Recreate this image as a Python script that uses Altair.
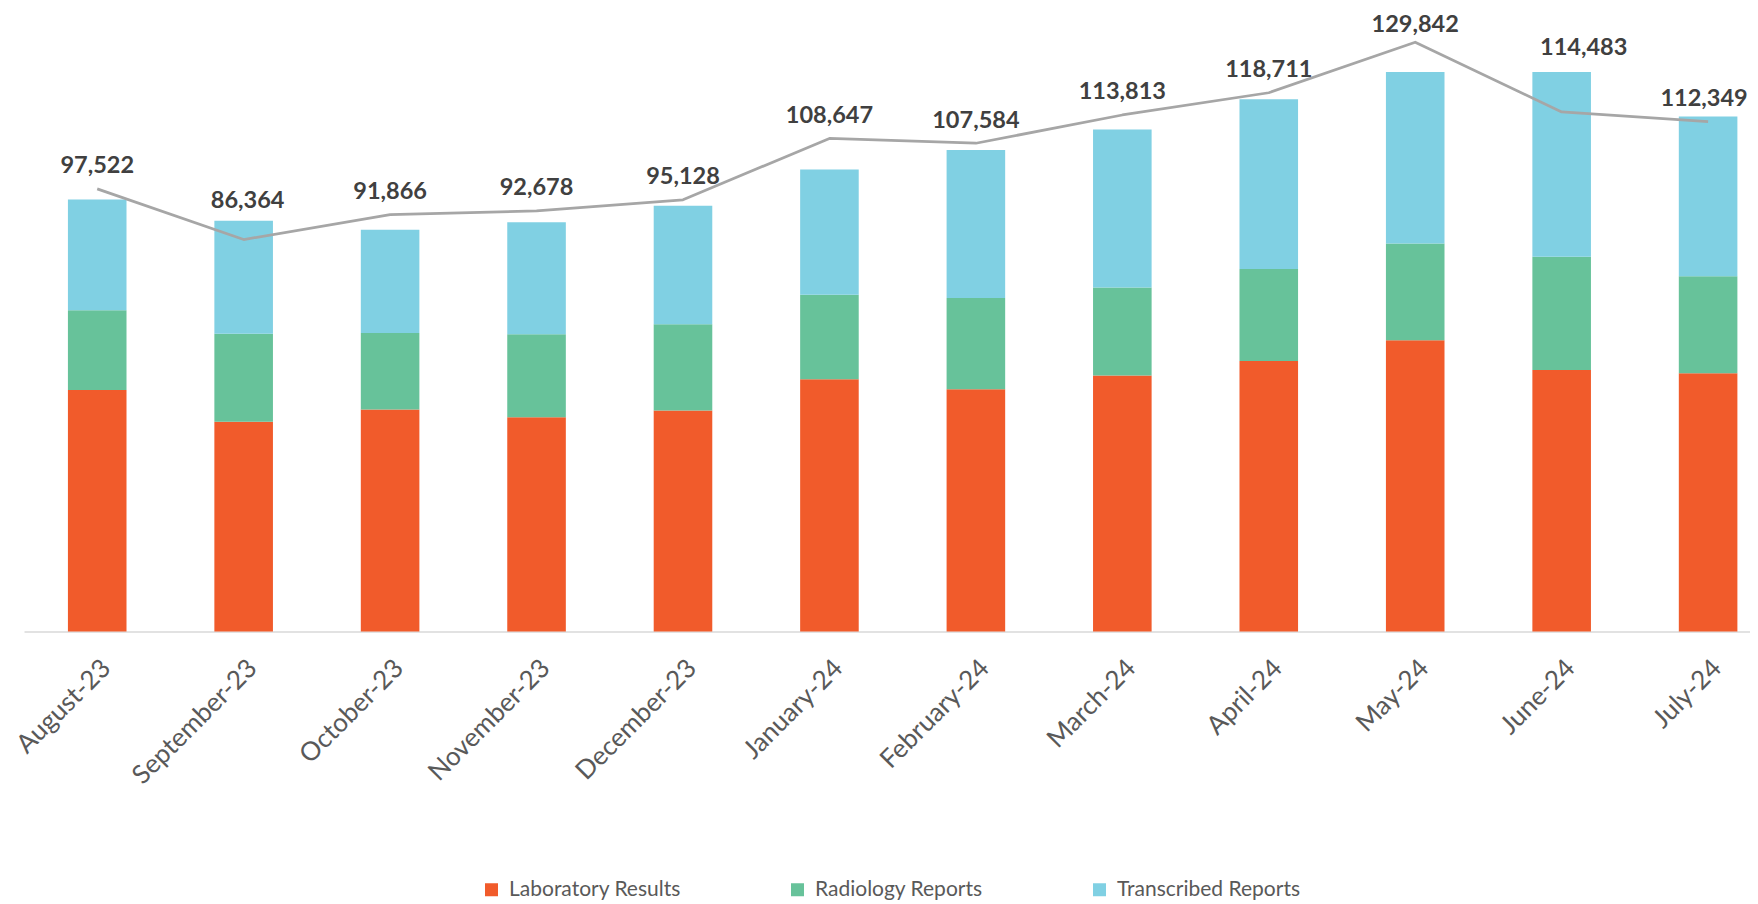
import altair as alt
import pandas as pd

months = ["August-23", "September-23", "October-23", "November-23", "December-23",
          "January-24", "February-24", "March-24", "April-24", "May-24", "June-24", "July-24"]
series = ["Laboratory Results", "Radiology Reports", "Transcribed Reports"]
laboratory = [53200, 46200, 48900, 47200, 48700, 55600, 53400, 56400, 59600, 64200, 57600, 56900]
radiology = [17600, 19400, 16900, 18300, 19000, 18600, 20100, 19400, 20300, 21300, 25000, 21400]
transcribed = [24400, 24900, 22700, 24700, 26100, 27600, 32600, 34800, 37400, 37800, 40700, 35200]
totals = [97522, 86364, 91866, 92678, 95128, 108647, 107584, 113813, 118711, 129842, 114483, 112349]
colors = ["#F15B2B", "#67C29A", "#80D0E3"]

rows = []
for i, m in enumerate(months):
    for k, vals in enumerate([laboratory, radiology, transcribed]):
        rows.append({"month": m, "series": series[k], "value": vals[i], "order": k})
bars_df = pd.DataFrame(rows)
tot_df = pd.DataFrame({"month": months, "total": totals,
                       "label": [f"{t:,}" for t in totals]})

x_scale = alt.Scale(domain=months, paddingInner=0.6, paddingOuter=0.193, align=0.777, round=False)
y_scale = alt.Scale(domain=[0, 134300], nice=False, zero=True)
x_axis = alt.Axis(title=None, labelAngle=-45, labelFont="Lato", labelFontSize=26,
                  labelColor="#595959", ticks=False, labelPadding=23,
                  domainColor="#D9D9D9", domainWidth=1.5, grid=False,
                  labelAlign="right", labelBaseline="top")
X = alt.X("month:N", scale=x_scale, axis=x_axis)

bars = alt.Chart(bars_df).mark_bar().encode(
    x=X,
    y=alt.Y("value:Q", stack="zero", scale=y_scale, axis=None),
    color=alt.Color("series:N", scale=alt.Scale(domain=series, range=colors),
                    legend=alt.Legend(title=None, orient="none", legendX=457, legendY=857,
                                      direction="horizontal", symbolType="square",
                                      symbolSize=169, symbolStrokeWidth=0,
                                      labelFont="Lato", labelFontSize=21,
                                      labelColor="#595959", labelOffset=7,
                                      labelLimit=400, columnPadding=106)),
    order=alt.Order("order:Q"),
)

line = alt.Chart(tot_df).mark_line(color="#A6A6A6", strokeWidth=2.75, strokeJoin="round").encode(
    x=X,
    y=alt.Y("total:Q", scale=y_scale, axis=None),
)

text_base = alt.Chart(tot_df).encode(
    x=X,
    y=alt.Y("total:Q", scale=y_scale, axis=None),
    text="label:N",
)
tstyle = dict(font="Lato", fontSize=23.5, fontWeight="bold", color="#404040", baseline="alphabetic")
special = ["September-23", "May-24", "June-24", "July-24"]
text_main = text_base.mark_text(dy=-15.5, **tstyle).transform_filter(
    ~alt.FieldOneOfPredicate(field="month", oneOf=special))
text_sep = text_base.mark_text(dx=4, dy=-31.5, **tstyle).transform_filter(alt.datum.month == "September-23")
text_may = text_base.mark_text(dy=-10.5, **tstyle).transform_filter(alt.datum.month == "May-24")
text_jun = text_base.mark_text(dx=22, dy=-56.5, **tstyle).transform_filter(alt.datum.month == "June-24")
text_jul = text_base.mark_text(dx=-4, dy=-15.5, **tstyle).transform_filter(alt.datum.month == "July-24")

chart = alt.layer(bars, line, text_main, text_sep, text_may, text_jun, text_jul).properties(
    width=1726, height=609.5,
    padding={"left": 16, "top": 14, "right": 0, "bottom": 268},
    autosize=alt.AutoSizeParams(type="none"),
    background="white",
).configure_view(stroke=None)

chart.save("out.html", embed_options={"renderer": "svg", "actions": False})
